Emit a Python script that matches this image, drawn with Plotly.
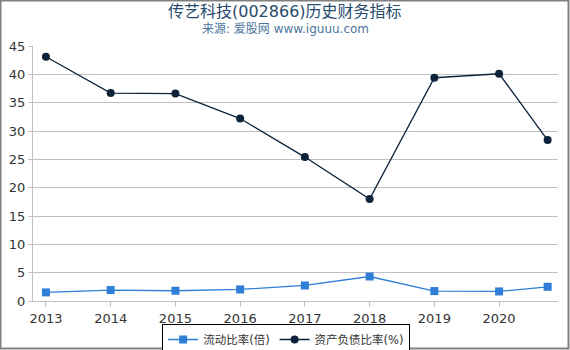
import plotly.graph_objects as go

years = [2013, 2014, 2015, 2016, 2017, 2018, 2019, 2020, 2020.75]
tick_vals = [2013, 2014, 2015, 2016, 2017, 2018, 2019, 2020]
tick_text = ["2013", "2014", "2015", "2016", "2017", "2018", "2019", "2020"]
current_ratio = [1.52, 1.93, 1.81, 2.04, 2.74, 4.32, 1.75, 1.69, 2.51]
debt_ratio = [43.1, 36.7, 36.6, 32.2, 25.4, 18.0, 39.4, 40.1, 28.4]

font_fam = "DejaVu Sans, Noto Sans CJK SC, sans-serif"

ML, MR, MT, MB = 33, 12, 46, 49
PW, PH = 570 - ML - MR, 350 - MT - MB

fig = go.Figure()
fig.add_trace(go.Scatter(
    x=years, y=current_ratio, name="流动比率(倍)", mode="lines+markers",
    line=dict(color="#2f7ed8", width=1.3),
    marker=dict(symbol="square", size=8, color="#2f7ed8"),
))
fig.add_trace(go.Scatter(
    x=years, y=debt_ratio, name="资产负债比率(%)", mode="lines+markers",
    line=dict(color="#0d233a", width=1.3),
    marker=dict(symbol="circle", size=8, color="#0d233a"),
))

cx = (285 - ML) / PW

fig.update_layout(
    width=570, height=350,
    margin=dict(l=ML, r=MR, t=MT, b=MB, autoexpand=False),
    paper_bgcolor="white", plot_bgcolor="white",
    font=dict(family=font_fam, color="#333333", size=13),
    showlegend=True,
    legend=dict(orientation="h", x=0.502, xref="container", xanchor="center",
                y=1 - 324 / 350, yref="container", yanchor="top",
                bordercolor="#000000", borderwidth=1, font=dict(size=11.5, color="#333333"),
                itemwidth=30, tracegroupgap=0),
    annotations=[
        dict(text="传艺科技(002866)历史财务指标", xref="paper", yref="paper",
             x=cx, y=1, yshift=35, xanchor="center", yanchor="middle", showarrow=False,
             font=dict(size=16, color="#274b6d")),
        dict(text="来源: 爱股网 www.iguuu.com", xref="paper", yref="paper",
             x=cx, y=1, yshift=17, xanchor="center", yanchor="middle", showarrow=False,
             font=dict(size=12, color="#4d759e")),
    ],
    shapes=[
        dict(type="rect", xref="paper", yref="paper",
             x0=(-ML + 0.5) / PW, x1=1 + (MR - 1.5) / PW,
             y0=(-MB + 1.5) / PH, y1=1 + (MT - 0.5) / PH,
             line=dict(color="#808080", width=2)),
    ],
)

fig.update_xaxes(
    range=[2012.8, 2020.91], tickvals=tick_vals, ticktext=tick_text,
    showgrid=False, zeroline=False, showline=True, linecolor="#c0c0c0", linewidth=1,
    ticks="outside", ticklen=5, tickcolor="#c0c0c0",
    tickfont=dict(size=13, color="#333333"),
)
fig.update_yaxes(
    range=[0, 45], dtick=5, showgrid=True, gridcolor="#c0c0c0", gridwidth=1,
    zeroline=False, showline=True, linecolor="#c0c0c0", linewidth=1,
    ticks="outside", ticklen=4, tickcolor="#c0c0c0",
    tickfont=dict(size=13, color="#333333"),
)

fig.write_html("out.html")
